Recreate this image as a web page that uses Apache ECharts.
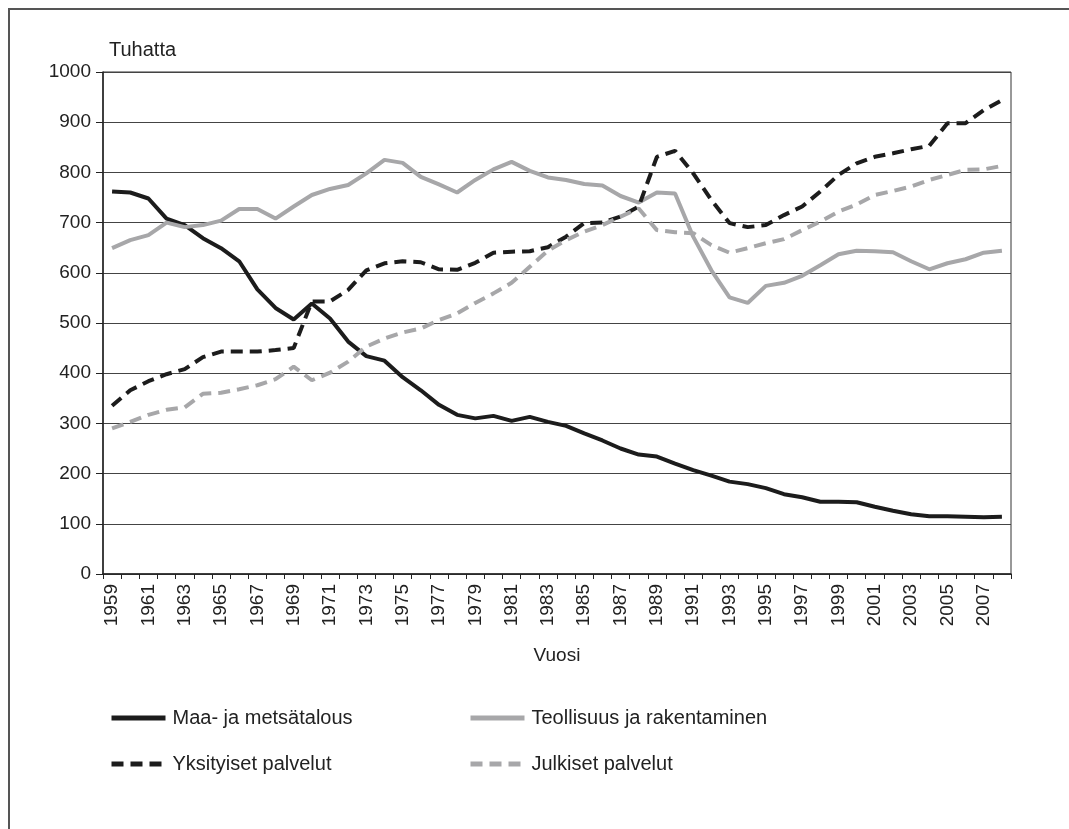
<!DOCTYPE html>
<html lang="fi">
<head>
    <meta charset="UTF-8">
    <title>Tuhatta</title>
    <script src="https://cdn.jsdelivr.net/npm/echarts@6/dist/echarts.min.js"></script>
    <style>
        body { margin: 0; background: #fff; }
        #main { width: 1069px; height: 829px; }
    </style>
</head>
<body>
<div id="main"></div>
<script type="text/javascript">
    // vuodet 1959-2008
    var years = []
    for (var y = 1959; y <= 2008; y++) years.push(String(y))

    // työlliset toimialoittain, tuhatta
    var maaJaMetsa = [762, 760, 748, 708, 695, 669, 649, 623, 567, 530,
        507, 539, 509, 463, 434, 425, 392, 366, 337, 317,
        310, 315, 305, 313, 303, 295, 280, 266, 250, 238,
        234, 220, 207, 196, 184, 179, 171, 159, 153, 144,
        144, 143, 134, 126, 119, 115, 115, 114, 113, 114]

    var teollisuus = [649, 665, 675, 700, 691, 695, 704, 727, 727, 708,
        732, 755, 767, 775, 798, 825, 819, 791, 776, 760,
        785, 806, 821, 803, 790, 785, 777, 774, 753, 740,
        760, 758, 672, 605, 551, 540, 574, 580, 594, 615,
        637, 644, 643, 641, 623, 607, 619, 627, 640, 644]

    var yksityiset = [335, 366, 384, 398, 408, 432, 443, 443, 443, 446,
        450, 543, 543, 566, 605, 619, 623, 621, 607, 606,
        620, 640, 642, 643, 651, 672, 699, 700, 712, 732,
        831, 843, 798, 745, 699, 691, 695, 715, 732, 762,
        795, 818, 831, 838, 846, 853, 898, 898, 924, 944]

    var julkiset = [290, 303, 317, 327, 332, 359, 361, 368, 376, 388,
        413, 386, 401, 423, 453, 469, 481, 489, 506, 519,
        540, 559, 580, 612, 644, 665, 682, 695, 712, 728,
        685, 681, 679, 655, 640, 649, 659, 667, 685, 702,
        722, 736, 755, 763, 772, 785, 795, 805, 806, 813]

    var fontName = 'Liberation Sans, Arial, sans-serif'
    var musta = '#1c1c1c'
    var harmaa = '#a7a7a9'

    var chart = echarts.init(document.getElementById('main'))

    function sarja(nimi, data, vari, viiva) {
        return {
            name: nimi,
            type: 'line',
            data: data,
            symbol: 'none',
            animation: false,
            lineStyle: { color: vari, width: 4, type: viiva, cap: 'butt' },
            itemStyle: { color: vari }
        }
    }

    var legendText = { fontFamily: fontName, fontSize: 20, color: '#222', padding: [0, 0, 0, 2] }

    var option = {
        backgroundColor: '#fff',
        animation: false,
        graphic: [
            { type: 'line', shape: { x1: 8, y1: 9, x2: 1069, y2: 9 }, style: { stroke: '#555', lineWidth: 2 } },
            { type: 'line', shape: { x1: 9, y1: 8, x2: 9, y2: 829 }, style: { stroke: '#555', lineWidth: 2 } }
        ],
        grid: {
            left: 103,
            top: 72,
            right: 58,
            bottom: 255,
            show: true,
            borderColor: '#333',
            borderWidth: 1
        },
        legend: [
            {
                left: 104, top: 703, orient: 'vertical', itemGap: 26,
                itemWidth: 54, itemHeight: 14,
                itemStyle: { opacity: 0 },
                lineStyle: { width: 5, type: [12, 7] },
                data: [
                    { name: 'Maa- ja metsätalous', lineStyle: { type: 'solid' } },
                    'Yksityiset palvelut'
                ],
                textStyle: legendText
            },
            {
                left: 463, top: 703, orient: 'vertical', itemGap: 26,
                itemWidth: 54, itemHeight: 14,
                itemStyle: { opacity: 0 },
                lineStyle: { width: 5, type: [12, 7] },
                data: [
                    { name: 'Teollisuus ja rakentaminen', lineStyle: { type: 'solid' } },
                    'Julkiset palvelut'
                ],
                textStyle: legendText
            }
        ],
        xAxis: {
            type: 'category',
            data: years,
            boundaryGap: true,
            name: 'Vuosi',
            nameLocation: 'middle',
            nameGap: 72,
            nameTextStyle: { fontFamily: fontName, fontSize: 19, color: '#222' },
            axisLine: { lineStyle: { color: '#222', width: 1.5 } },
            axisTick: { show: true, interval: 0, length: 5, lineStyle: { color: '#222' } },
            axisLabel: {
                interval: 1,
                rotate: 90,
                margin: 10,
                fontFamily: fontName,
                fontSize: 19,
                color: '#222'
            }
        },
        yAxis: {
            type: 'value',
            min: 0,
            max: 1000,
            interval: 100,
            name: 'Tuhatta',
            nameLocation: 'end',
            nameGap: 12,
            nameTextStyle: { fontFamily: fontName, fontSize: 20, color: '#222', align: 'left', padding: [0, 0, 0, 6] },
            axisLine: { show: true, lineStyle: { color: '#222', width: 1.5 } },
            axisTick: { show: true, length: 7, lineStyle: { color: '#222' } },
            axisLabel: {
                fontFamily: fontName, fontSize: 19, color: '#222', margin: 12,
                formatter: function (v) { return String(v) }
            },
            splitLine: { show: true, lineStyle: { color: '#444', width: 1 } }
        },
        series: [
            sarja('Maa- ja metsätalous', maaJaMetsa, musta, 'solid'),
            sarja('Teollisuus ja rakentaminen', teollisuus, harmaa, 'solid'),
            sarja('Yksityiset palvelut', yksityiset, musta, [12, 7]),
            sarja('Julkiset palvelut', julkiset, harmaa, [12, 7])
        ]
    }

    chart.setOption(option)
</script>
</body>
</html>
